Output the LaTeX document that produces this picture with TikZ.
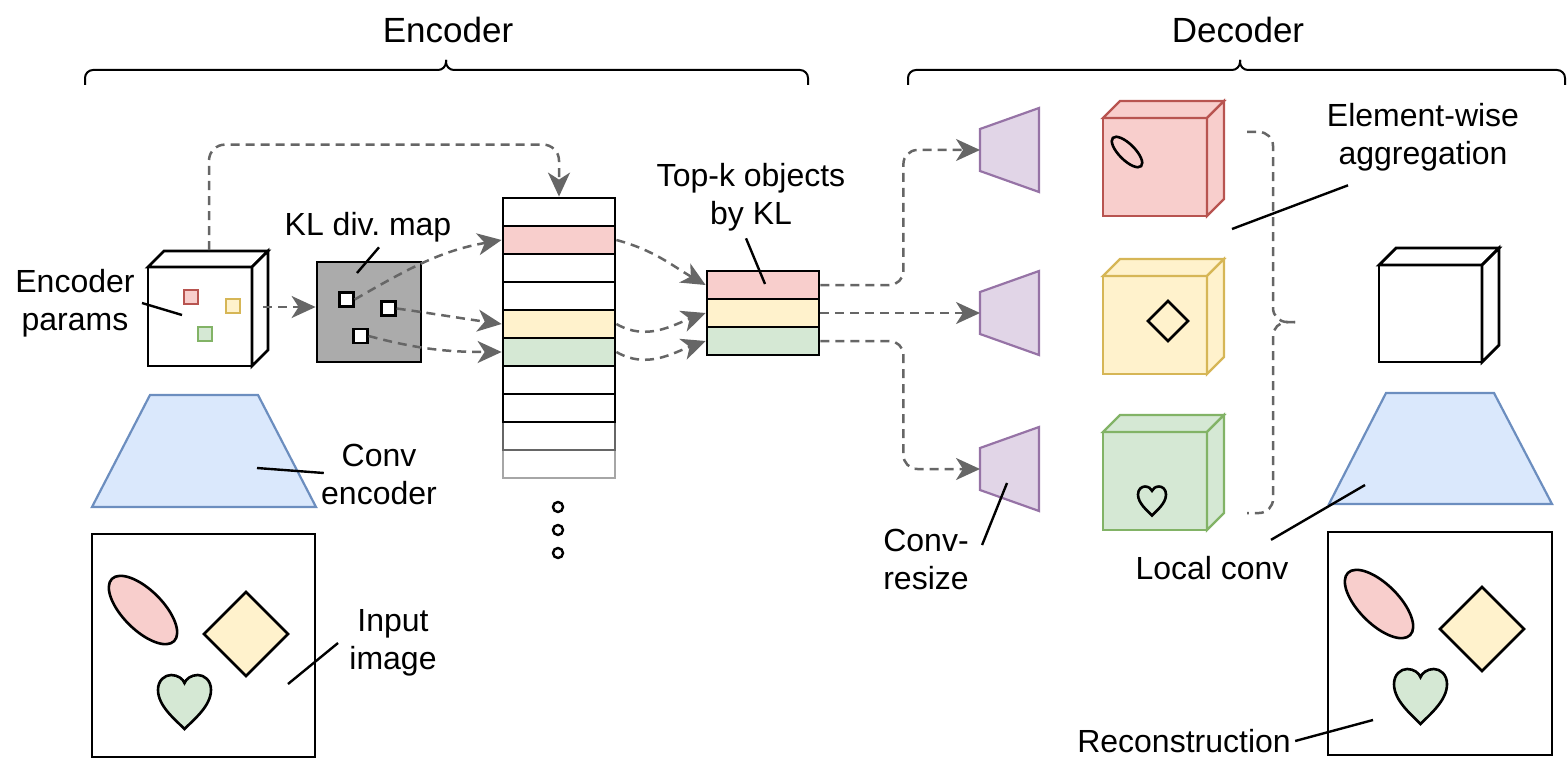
\documentclass[tikz,border=0pt]{standalone}
\usepackage{fontspec}
\setmainfont{Liberation Sans}
\usetikzlibrary{arrows.meta,calc}
\definecolor{redfill}{HTML}{F8CECC}
\definecolor{redline}{HTML}{B85450}
\definecolor{yelfill}{HTML}{FFF2CC}
\definecolor{yelline}{HTML}{D6B656}
\definecolor{grnfill}{HTML}{D5E8D4}
\definecolor{grnline}{HTML}{82B366}
\definecolor{blufill}{HTML}{DAE8FC}
\definecolor{bluline}{HTML}{6C8EBF}
\definecolor{purfill}{HTML}{E1D5E7}
\definecolor{purline}{HTML}{9673A6}
\definecolor{mapgray}{RGB}{171,171,171}
\definecolor{flowgray}{RGB}{102,102,102}

\tikzset{
  lbl/.style={font=\fontsize{16pt}{19pt}\selectfont, align=center, inner sep=2pt},
  ttl/.style={font=\fontsize{17.5pt}{21pt}\selectfont, inner sep=2pt},
  dashgray/.style={draw=flowgray, line width=1.25pt, dash pattern=on 4.5pt off 3pt},
  flow/.style={dashgray, -{Stealth[length=12pt,width=11pt,inset=3.5pt]}},
  agg/.style={dashgray, rounded corners=7pt},
  ptr/.style={line width=1.2pt},
  brc/.style={line width=1pt, rounded corners=4pt},
  blk/.style={draw, fill=white, line width=1.4pt},
  shp/.style={draw, line width=1.3pt},
  listrow/.style={draw, line width=1.4pt, minimum width=56pt, minimum height=14pt, inner sep=0pt},
  psq/.style={line width=1pt, minimum size=7pt, inner sep=0pt},
  ksq/.style={draw, fill=white, line width=1.2pt, minimum size=7pt, inner sep=0pt},
  redc/.style={draw=redline, fill=redfill, line width=1.1pt},
  yelc/.style={draw=yelline, fill=yelfill, line width=1.1pt},
  grnc/.style={draw=grnline, fill=grnfill, line width=1.1pt},
  bluc/.style={draw=bluline, fill=blufill, line width=1.1pt},
  purc/.style={draw=purline, fill=purfill, line width=1.1pt},
  heart/.pic={
    \path[pic actions] (0,-1) .. controls (-0.35,-0.65) and (-1,-0.15) .. (-1,0.45)
      .. controls (-1,0.8) and (-0.75,1) .. (-0.5,1)
      .. controls (-0.25,1) and (-0.05,0.85) .. (0,0.7)
      .. controls (0.05,0.85) and (0.25,1) .. (0.5,1)
      .. controls (0.75,1) and (1,0.8) .. (1,0.45)
      .. controls (1,-0.15) and (0.35,-0.65) .. (0,-1) -- cycle;
  }
}

% cube: x, y, width, height, depth, style
\newcommand{\cubeblock}[6]{%
  \filldraw[#6] (#1,#2) rectangle ++(#3,#4);
  \filldraw[#6] (#1,#2+#4) -- ++(#5,#5) -- ++(#3,0) -- ++(-#5,-#5) -- cycle;
  \filldraw[#6] (#1+#3,#2) -- ++(#5,#5) -- ++(0,#4) -- ++(-#5,-#5) -- cycle;
}

\begin{document}
\begin{tikzpicture}[x=0.5pt,y=0.5pt]
  \useasboundingbox (0,0) rectangle (1567,762);

  % Titles and braces
  \node[ttl] (enc) at (448,732) {Encoder};
  \node[ttl] (dec) at (1238,732) {Decoder};
  \draw[brc] (85,677) |- (446,692) -- (446,702);
  \draw[brc] (808,677) |- (446,692) -- (446,702);
  \draw[brc] (908,677) |- (1240,692) -- (1240,702);
  \draw[brc] (1565,677) |- (1240,692) -- (1240,702);

  % Input image
  \draw[shp] (92,5) rectangle (315,228);
  \draw[shp, fill=redfill, rotate around={-45:(143,152)}] (143,152) ellipse [x radius=44, y radius=20];
  \draw[shp, fill=yelfill] (204,128) -- ++(42,42) -- ++(42,-42) -- ++(-42,-42) -- cycle;
  \pic[shp, fill=grnfill, xscale=26.5, yscale=27] at (184.5,60) {heart};
  \coordinate (inimg) at (288,78);
  \node[lbl] (iil) at (393,119) {Input\\image};
  \draw[ptr] ($(iil.west)+(-7,0)$) -- (inimg);

  % Conv encoder
  \filldraw[bluc] (92,255) -- (150,367) -- (258,367) -- (316,255) -- cycle;
  \coordinate (cenc) at (257,294);
  \node[lbl] (cel) at (379,288) {Conv\\encoder};
  \draw[ptr] ($(cel.west)+(7,1)$) -- (cenc);

  % Encoder params
  \cubeblock{148}{396}{104}{99}{16}{blk}
  \node[psq, draw=redline, fill=redfill] (p1) at (191,465) {};
  \node[psq, draw=yelline, fill=yelfill] (p2) at (233,456.5) {};
  \node[psq, draw=grnline, fill=grnfill] (p3) at (205,428.5) {};
  \coordinate (ecub) at (182,447);
  \coordinate (ectop) at (209,512);
  \coordinate (ecside) at (263,455);
  \node[lbl] (epl) at (75,459) {Encoder\\params};
  \draw[ptr] ($(epl.east)+(3,0)$) -- (ecub);

  % KL divergence map
  \node[draw, fill=mapgray, line width=1.4pt, minimum width=52pt, minimum height=50pt] (kmap) at (369,450) {};
  \node[ksq] (s1) at (346.5,462.5) {};
  \node[ksq] (s2) at (388.5,453.5) {};
  \node[ksq] (s3) at (360.5,426) {};
  \coordinate (kin) at (357,489);
  \node[lbl] (kll) at (368,535) {KL div.\ map};
  \draw[ptr] ($(kll.south)+(11,-1)$) -- (kin);
  \draw[flow] (ecside) -- (ecside -| kmap.west);

  % Object list
  \node[listrow, draw=black!35] (l10) at (559,298) {};
  \node[listrow, draw=black!60] (l9) at (559,326) {};
  \foreach \i/\c in {1/white,2/redfill,3/white,4/white,5/yelfill,6/grnfill,7/white,8/white}
    \node[listrow, fill=\c] (l\i) at (559,578-28*\i) {};
  \foreach \y in {255,232,209}
    \draw[line width=1.2pt] (558,\y) circle (5);
  \draw[flow, rounded corners=8pt] (ectop) |- ($(l1.north)+(0,52)$) -- (l1.north);
  \draw[flow] (s1.east) to[out=30,in=190] (l2.west);
  \draw[flow] (s2.east) to[out=-8,in=172] (l5.west);
  \draw[flow] (s3.east) to[out=-15,in=180] (l6.west);

  % Top-k objects
  \foreach \i/\c in {1/redfill,2/yelfill,3/grnfill}
    \node[listrow, fill=\c] (k\i) at (763,505-28*\i) {};
  \coordinate (kpick) at (765,478);
  \node[lbl] (tkl) at (751,565) {Top-k objects\\by KL};
  \draw[ptr] ($(tkl.south)+(-5,-3)$) -- (kpick);
  \draw[flow] (l2.east) to[out=-15,in=150] (k1.west);
  \draw[flow] (l5.east) to[out=-30,in=200] (k2.west);
  \draw[flow] (l6.east) to[out=-30,in=200] (k3.west);

  % Conv-resize
  \foreach \n/\yc in {1/612,2/449,3/293}{
    \filldraw[purc] (980,\yc-21) -- (980,\yc+21) -- (1039,\yc+42) -- (1039,\yc-42) -- cycle;
    \coordinate (t\n) at (980,\yc);
  }
  \coordinate (cres) at (1007,279);
  \node[lbl] (crl) at (926,203) {Conv-\\resize};
  \draw[ptr] ($(crl.east)+(9,14)$) -- (cres);
  \draw[flow, rounded corners=7pt] (k1.east) -- ++(83,0) |- (t1);
  \draw[flow] (k2.east) -- (k2.east -| t2);
  \draw[flow, rounded corners=7pt] (k3.east) -- ++(83,0) |- (t3);

  % Object maps
  \cubeblock{1103}{546}{104}{98}{17}{redc}
  \cubeblock{1103}{388}{104}{98}{17}{yelc}
  \cubeblock{1103}{232}{104}{98}{17}{grnc}
  \draw[shp, rotate around={-45:(1127,610)}] (1127,610) ellipse [x radius=20, y radius=8];
  \draw[shp] (1148,441) -- ++(20,20) -- ++(20,-20) -- ++(-20,-20) -- cycle;
  \pic[shp, xscale=14, yscale=14.5] at (1152,261) {heart};

  % Element-wise aggregation
  \draw[agg] (1247,630) -| (1273,440) -- (1295,440);
  \draw[agg] (1295,440) -| (1273,249) -- (1247,249);
  \coordinate (aggpt) at (1232,533);
  \node[lbl] (ewl) at (1423,625) {Element-wise\\aggregation};
  \draw[ptr] ($(ewl.south)+(-75,-10)$) -- (aggpt);

  % Output and local conv
  \cubeblock{1379}{400}{103}{97}{17}{blk}
  \filldraw[bluc] (1329,258) -- (1386,369) -- (1494,369) -- (1552,258) -- cycle;
  \coordinate (lconv) at (1365,277);
  \node[lbl] (lcl) at (1212,194) {Local conv};
  \draw[ptr] ($(lcl.north)+(59,12)$) -- (lconv);

  % Reconstruction
  \draw[shp] (1328,7) rectangle (1552,230);
  \draw[shp, fill=redfill, rotate around={-45:(1379,158)}] (1379,158) ellipse [x radius=44, y radius=20];
  \draw[shp, fill=yelfill] (1440,133) -- ++(42,42) -- ++(42,-42) -- ++(-42,-42) -- cycle;
  \pic[shp, fill=grnfill, xscale=26.5, yscale=27.5] at (1420.5,65.5) {heart};
  \coordinate (recpt) at (1373,42);
  \node[lbl] (rcl) at (1184,21) {Reconstruction};
  \draw[ptr] (rcl.east) -- (recpt);
\end{tikzpicture}
\end{document}
